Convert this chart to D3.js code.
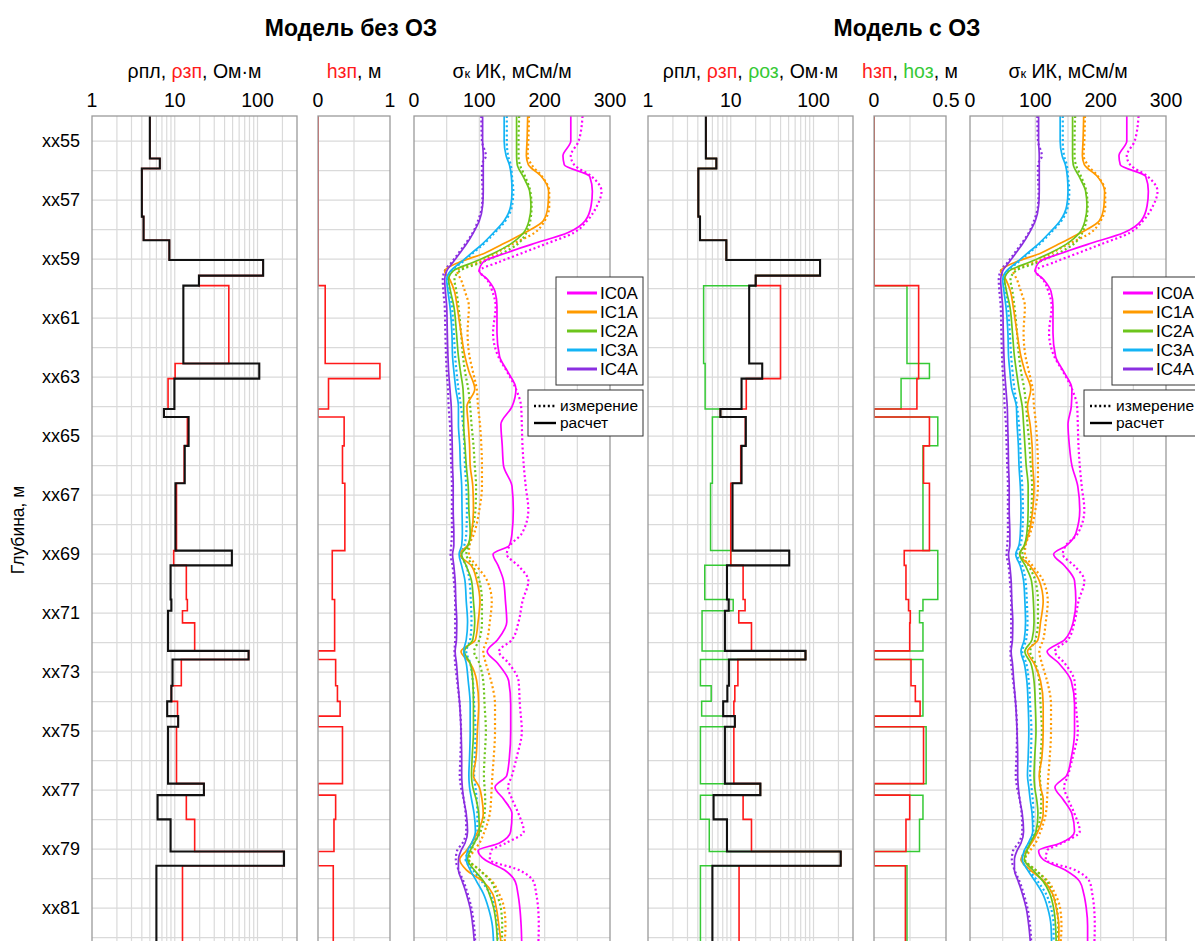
<!DOCTYPE html>
<html>
<head>
<meta charset="utf-8">
<script src="https://cdn.jsdelivr.net/npm/d3@7"></script>
<style>
  body { margin: 0; background: #fff; }
  text { font-family: "Liberation Sans", Arial, sans-serif; }
</style>
</head>
<body>
<div id="chart"></div>
<script>
// ---- layered model (tops of layers, m) ----
const layerTop = [54.0, 55.59, 55.93, 57.56, 58.36, 59.03, 59.56, 59.9, 62.54, 63.05,
  64.08, 64.35, 65.33, 66.6, 68.88, 69.38, 70.54, 70.92, 71.33, 72.28,
  72.57, 73.46, 73.99, 74.49, 74.85, 76.78, 77.17, 77.99, 79.08, 79.56];
const layerBottom = 83;

// model without OZ
const rhoPl1 = [5.0, 6.6, 4.0, 4.2, 8.6, 117, 19.6, 12.7, 105, 9.9,
  7.4, 14.7, 13.2, 10.2, 49, 8.9, 9.1, 8.3, 8.3, 78,
  9.4, 9.1, 8.1, 11, 8.3, 22.5, 6.2, 8.9, 209, 6.0];
const rhoZp1 = [5.0, 6.6, 4.0, 4.2, 8.6, 117, 19.6, 45, 10.1, 8.3,
  7.4, 14.2, 13.0, 10.5, 9.7, 13.8, 14.2, 12.4, 17.4, 78,
  12.0, 9.1, 10.8, 11, 10.5, 22.5, 13.8, 17.4, 209, 12.4];
const hZp1 = [0, 0, 0, 0, 0, 0, 0, 0.10, 0.86, 0.146,
  0, 0.363, 0.34, 0.373, 0.198, 0.198, 0.231, 0.231, 0.231, 0,
  0.245, 0.27, 0.307, 0, 0.34, 0, 0.245, 0.222, 0, 0.212];

// model with OZ
const rhoPl2 = [5.0, 6.7, 4.06, 4.25, 8.85, 120, 20, 16.7, 24, 13.5,
  7.5, 15.2, 13.5, 10.5, 50.9, 9.0, 9.45, 8.5, 8.5, 80,
  9.5, 9.1, 8.1, 11.2, 8.5, 22.8, 6.2, 9.0, 213, 6.0];
const rhoZp2 = [5.0, 6.7, 4.06, 4.25, 8.85, 120, 20, 39.9, 39.9, 15.4,
  7.5, 15.0, 13.2, 10.0, 10.0, 14.1, 14.9, 12.5, 17.8, 80,
  12.2, 11.2, 10.9, 11.2, 10.9, 22.8, 14.1, 17.8, 213, 12.6];
const rhoOz2 = [5.0, 6.7, 4.06, 4.25, 8.85, 120, 20, 4.7, 4.9, 4.9,
  7.5, 6.0, 6.0, 5.7, 10.0, 4.85, 10.7, 4.5, 4.5, 80,
  4.3, 5.8, 4.45, 11.2, 4.3, 22.8, 4.3, 5.5, 213, 4.3];
const hZp2 = [0, 0, 0, 0, 0, 0, 0, 0.31, 0.31, 0.298,
  0, 0.385, 0.344, 0.385, 0.21, 0.222, 0.24, 0.252, 0.248, 0,
  0.257, 0.287, 0.32, 0, 0.344, 0, 0.248, 0.222, 0, 0.218];
const hOz2 = [0, 0, 0, 0, 0, 0, 0, 0.229, 0.385, 0.188,
  0, 0.443, 0.34, 0.34, 0.443, 0.443, 0.34, 0.316, 0.34, 0,
  0.34, 0.34, 0.34, 0, 0.362, 0, 0.34, 0.316, 0, 0.229];

// ---- induction log, mS/m ----
const sigDepth = [54.15, 55.0, 55.5, 55.8, 56.2, 56.7, 57.2, 57.7, 58.1, 58.5,
  58.8, 59.1, 59.4, 59.7, 60.1, 60.6, 61.5, 62.3, 62.8, 63.4,
  64.0, 64.6, 65.3, 66.0, 66.7, 67.5, 68.3, 68.7, 69.0, 69.4,
  69.9, 70.6, 71.3, 71.9, 72.3, 72.7, 73.3, 74.1, 75.0, 75.9,
  76.5, 76.9, 77.3, 77.8, 78.4, 78.8, 79.05, 79.35, 79.7, 80.1,
  80.5, 81.0, 81.6, 82.35];

const measIC0A = [258, 252, 240, 245, 272, 287, 280, 265, 245, 200,
  165, 130, 100, 112, 120, 125, 121, 129, 142, 156,
  164, 165, 166, 168, 171, 175, 165, 147, 142, 160,
  175, 166, 160, 150, 130, 145, 160, 162, 165, 157,
  150, 144, 150, 160, 168, 140, 118, 116, 160, 183,
  187, 190, 191, 190];
const measIC1A = [176, 175, 174, 180, 196, 207, 207, 200, 185, 150,
  125, 100, 66, 72, 78, 84, 82, 85, 90, 96,
  98, 101, 103, 104, 104, 100, 92, 85, 84, 96,
  112, 119, 116, 112, 106, 110, 118, 124, 124, 122,
  120, 119, 118, 116, 108, 100, 92, 84, 100, 120,
  130, 138, 140, 138];
const measIC2A = [161, 160, 160, 162, 170, 178, 180, 178, 172, 158,
  135, 105, 70, 62, 65, 68, 72, 75, 78, 83,
  86, 88, 91, 93, 95, 94, 88, 84, 80, 90,
  100, 104, 104, 100, 92, 100, 106, 108, 110, 108,
  107, 108, 109, 108, 102, 92, 88, 84, 100, 118,
  126, 133, 135, 134];
const measIC3A = [142, 142, 144, 148, 150, 152, 150, 140, 124, 106,
  90, 74, 58, 52, 55, 58, 61, 63, 65, 68,
  72, 75, 77, 78, 80, 81, 80, 77, 72, 80,
  85, 87, 88, 86, 80, 86, 90, 92, 94, 93,
  92, 94, 96, 97, 97, 90, 84, 79, 90, 104,
  116, 124, 128, 128];
const measIC4A = [103, 104, 110, 104, 104, 105, 104, 98, 90, 78,
  68, 58, 47, 44, 45, 47, 48, 49, 50, 52,
  53, 55, 56, 57, 58, 58, 58, 57, 56, 59,
  61, 63, 63, 63, 62, 63, 66, 70, 72, 71,
  70, 72, 76, 79, 80, 74, 66, 64, 68, 76,
  82, 88, 92, 94];

// computed, model without OZ
const calc1IC0A = [240, 240, 228, 230, 269, 273, 271, 262, 236, 180,
  140, 106, 100, 113, 124, 127, 127, 131, 143, 156,
  150, 133, 135, 137, 150, 152, 150, 146, 121, 129,
  137, 140, 142, 128, 112, 128, 145, 148, 148, 146,
  142, 124, 137, 150, 148, 130, 98, 108, 138, 155,
  159, 162, 164, 165];
const calc1IC1A = [174, 173, 172, 175, 195, 206, 205, 198, 170, 135,
  108, 70, 47, 55, 62, 66, 72, 78, 84, 93,
  81, 83, 85, 86, 90, 91, 88, 82, 70, 88,
  96, 101, 98, 94, 72, 86, 96, 99, 97, 95,
  91, 100, 104, 106, 98, 88, 80, 70, 80, 106,
  120, 126, 130, 134];
const calc1IC2A = [157, 157, 157, 158, 167, 177, 179, 176, 168, 147,
  122, 92, 60, 53, 56, 61, 65, 68, 71, 75,
  76, 76, 78, 80, 83, 84, 86, 83, 73, 80,
  88, 91, 93, 90, 77, 86, 90, 91, 91, 89,
  88, 90, 95, 99, 100, 92, 86, 82, 92, 107,
  115, 122, 126, 128];
const calc1IC3A = [138, 138, 141, 146, 149, 150, 148, 138, 122, 104,
  88, 72, 56, 50, 52, 55, 58, 59, 61, 64,
  68, 68, 70, 71, 73, 73.5, 74, 73, 69, 73,
  78, 80, 82, 80, 76, 80, 83, 86, 86, 85,
  84, 85, 88, 92, 94, 88, 82, 80, 86, 96,
  106, 114, 120, 122];
const calc1IC4A = [105, 105, 106, 106, 106, 106, 105, 100, 91, 80,
  70, 60, 50, 47, 48, 50, 51, 52, 53, 55,
  57, 57.7, 58.5, 59, 60, 60, 61, 61, 59, 61,
  63, 64, 65.5, 65, 63, 65, 67, 70, 72, 73,
  73, 74, 76, 80, 82, 78, 72, 68, 68, 74,
  80, 86, 90, 93];

// computed, model with OZ
const calc2IC0A = [240, 240, 228, 230, 269, 273, 271, 262, 236, 180,
  140, 106, 100, 113, 124, 127, 127, 131, 143, 156,
  155, 150, 152, 156, 165, 168, 162, 148, 128, 145,
  160, 162, 158, 145, 118, 136, 155, 160, 160, 155,
  148, 130, 142, 156, 160, 138, 105, 112, 145, 168,
  174, 178, 180, 180];
const calc2IC1A = [174, 173, 172, 175, 195, 206, 205, 198, 170, 135,
  108, 70, 47, 55, 62, 66, 72, 78, 84, 93,
  88, 92, 95, 96, 98, 96, 90, 84, 76, 92,
  106, 112, 108, 104, 88, 98, 108, 112, 112, 110,
  106, 108, 112, 112, 104, 94, 86, 78, 92, 114,
  126, 132, 136, 136];
const calc2IC2A = [157, 157, 157, 158, 167, 177, 179, 176, 168, 147,
  122, 92, 60, 53, 56, 61, 65, 68, 71, 75,
  80, 82, 84, 86, 89, 89, 87, 83, 76, 85,
  94, 97, 98, 95, 84, 93, 98, 100, 101, 99,
  98, 99, 102, 104, 101, 92, 87, 83, 96, 112,
  122, 128, 131, 132];
const calc2IC3A = [138, 138, 141, 146, 149, 150, 148, 138, 122, 104,
  88, 72, 56, 50, 52, 55, 58, 59, 61, 64,
  71, 72, 74, 75, 77, 78, 77, 75, 70, 77,
  82, 84, 85, 83, 78, 83, 87, 89, 90, 89,
  88, 90, 92, 95, 96, 89, 83, 80, 88, 100,
  111, 119, 124, 125];
const calc2IC4A = [105, 105, 106, 106, 106, 106, 105, 100, 91, 80,
  70, 60, 50, 47, 48, 50, 51, 52, 53, 55,
  57, 57.7, 58.5, 59, 60, 60, 61, 61, 59, 61,
  63, 64, 65.5, 65, 63, 65, 67, 70, 72, 73,
  73, 74, 76, 80, 82, 78, 72, 68, 68, 74,
  80, 86, 90, 93];

const channels = ["IC0A", "IC1A", "IC2A", "IC3A", "IC4A"];
const chColors = ["#ff00ff", "#ff9a00", "#6cc51c", "#14b4f5", "#8b2fe0"];
const measured = [measIC0A, measIC1A, measIC2A, measIC3A, measIC4A];
const calc1 = [calc1IC0A, calc1IC1A, calc1IC2A, calc1IC3A, calc1IC4A];
const calc2 = [calc2IC0A, calc2IC1A, calc2IC2A, calc2IC3A, calc2IC4A];

const depthLabels = [55, 57, 59, 61, 63, 65, 67, 69, 71, 73, 75, 77, 79, 81];
const resTicks = [1, 10, 100];
const sigTicks = [0, 100, 200, 300];

const RED = "#ff1a1a", GREEN = "#35c935";

// ---- drawing ----
const W = 1195, H = 941;
const svg = d3.select("#chart").append("svg")
  .attr("width", W).attr("height", H);

const y = d3.scaleLinear().domain([54.15, 82.35]).range([116, 948]);
const gridDepths = d3.range(55, 83);

function stepPts(vals) {
  let pts = [];
  vals.forEach((v, i) => {
    let bot = i < layerTop.length - 1 ? layerTop[i + 1] : layerBottom;
    pts.push([v, layerTop[i]], [v, bot]);
  });
  return pts;
}

let clipId = 0;
function makeTrack(x0, x1) {
  let id = "clip" + (clipId++);
  svg.append("clipPath").attr("id", id).append("rect")
    .attr("x", x0).attr("y", y.range()[0]).attr("width", x1 - x0).attr("height", y.range()[1] - y.range()[0]);
  let g = svg.append("g");
  // horizontal grid
  g.selectAll(".hg").data(gridDepths).enter().append("line")
    .attr("x1", x0).attr("x2", x1)
    .attr("y1", d => y(d)).attr("y2", d => y(d))
    .attr("stroke", "#dadada").attr("stroke-width", 1.2);
  let inner = svg.append("g").attr("clip-path", `url(#${id})`);
  return {g: g, inner: inner, x0: x0, x1: x1};
}

function frame(tr) {
  svg.append("rect")
    .attr("x", tr.x0).attr("y", y.range()[0])
    .attr("width", tr.x1 - tr.x0).attr("height", y.range()[1] - y.range()[0])
    .attr("fill", "none").attr("stroke", "#9a9a9a").attr("stroke-width", 1.3);
}

function vGrid(tr, scale, vals) {
  tr.g.selectAll(".vg").data(vals).enter().append("line")
    .attr("x1", d => scale(d)).attr("x2", d => scale(d))
    .attr("y1", y.range()[0]).attr("y2", y.range()[1])
    .attr("stroke", "#dadada").attr("stroke-width", 1.2);
}

function stepLine(tr, scale, vals, color, width) {
  tr.inner.append("path")
    .datum(stepPts(vals))
    .attr("d", d3.line().x(p => scale(p[0])).y(p => y(p[1])))
    .attr("fill", "none").attr("stroke", color).attr("stroke-width", width)
    .attr("stroke-linejoin", "miter");
}

function tickLabels(scale, ticks, fmt) {
  svg.append("g").selectAll("text").data(ticks).enter().append("text")
    .attr("x", d => scale(d)).attr("y", 107)
    .attr("text-anchor", "middle").attr("font-size", 19.5)
    .text(fmt);
}

function header(cx, parts) {
  let t = svg.append("text").attr("x", cx).attr("y", 78)
    .attr("text-anchor", "middle").attr("font-size", 19.5);
  parts.forEach(p => {
    let s = t.append("tspan").attr("fill", p[1] || "#000").text(p[0]);
    if (p[2]) s.attr("font-size", p[2]);
  });
}

function drawGroup(off, hMax, pl, zp, oz, hz, ho, calc, title) {
  // resistivity
  let res = makeTrack(92 + off, 297 + off);
  let xr = d3.scaleLog().domain([1, 300]).range([res.x0, res.x1]);
  let minor = [2, 3, 4, 5, 6, 7, 8, 9, 10, 20, 30, 40, 50, 60, 70, 80, 90, 100, 200];
  vGrid(res, xr, minor);
  if (oz) stepLine(res, xr, oz, GREEN, 1.5);
  stepLine(res, xr, zp, RED, 1.6);
  stepLine(res, xr, pl, "#111", 2.1);
  frame(res);
  tickLabels(xr, resTicks, d => d);

  // invasion radius
  let ht = makeTrack(off === 0 ? 318 : 874, off === 0 ? 390 : 946);
  let xh = d3.scaleLinear().domain([0, hMax]).range([ht.x0, ht.x1]);
  vGrid(ht, xh, [hMax / 2]);
  if (ho) stepLine(ht, xh, ho, GREEN, 1.5);
  stepLine(ht, xh, hz, RED, 1.6);
  frame(ht);
  tickLabels(xh, [0, hMax], d => d);

  // conductivity
  let sg = makeTrack(414 + off, 610 + off);
  let xs = d3.scaleLinear().domain([0, 300]).range([sg.x0, sg.x1]);
  vGrid(sg, xs, [50, 100, 150, 200, 250]);
  let line = d3.line().curve(d3.curveMonotoneY)
    .x(d => xs(d[0])).y(d => y(d[1]));
  measured.forEach((arr, i) => {
    sg.inner.append("path")
      .datum(arr.map((v, j) => [v, sigDepth[j]]))
      .attr("d", line).attr("fill", "none")
      .attr("stroke", chColors[i]).attr("stroke-width", 2.2)
      .attr("stroke-dasharray", "2,2.6");
  });
  calc.forEach((arr, i) => {
    sg.inner.append("path")
      .datum(arr.map((v, j) => [v, sigDepth[j]]))
      .attr("d", line).attr("fill", "none")
      .attr("stroke", chColors[i]).attr("stroke-width", 1.7);
  });
  frame(sg);
  tickLabels(xs, sigTicks, d => d);

  // titles
  svg.append("text").attr("x", (res.x0 + sg.x1) / 2).attr("y", 36)
    .attr("text-anchor", "middle").attr("font-size", 23).attr("font-weight", "bold")
    .text(title);
  if (oz) {
    header((res.x0 + res.x1) / 2, [["ρпл, "], ["ρзп", RED], [", "], ["ρоз", GREEN], [", Ом·м"]]);
    header((ht.x0 + ht.x1) / 2, [["hзп", RED], [", "], ["hоз", GREEN], [", м"]]);
  } else {
    header((res.x0 + res.x1) / 2, [["ρпл, "], ["ρзп", RED], [", Ом·м"]]);
    header((ht.x0 + ht.x1) / 2, [["hзп", RED], [", м"]]);
  }
  header((sg.x0 + sg.x1) / 2, [["σ"], ["к", "#000", 13], [" ИК, мСм/м"]]);

  // legends
  let lx = sg.x0 + 142, ly = 277;
  let lg = svg.append("g");
  lg.append("rect").attr("x", lx).attr("y", ly).attr("width", 87).attr("height", 108)
    .attr("fill", "#fff").attr("stroke", "#333").attr("stroke-width", 1);
  channels.forEach((c, i) => {
    let yy = ly + 16 + i * 19;
    lg.append("line").attr("x1", lx + 11).attr("x2", lx + 41)
      .attr("y1", yy).attr("y2", yy)
      .attr("stroke", chColors[i]).attr("stroke-width", 3);
    lg.append("text").attr("x", lx + 44).attr("y", yy + 6)
      .attr("font-size", 17).attr("font-family", "Open Sans").text(c);
  });
  let mx = sg.x0 + 114, my = 390;
  lg.append("rect").attr("x", mx).attr("y", my).attr("width", 115).attr("height", 46)
    .attr("fill", "#fff").attr("stroke", "#333").attr("stroke-width", 1);
  [["измерение", "2,2.6"], ["расчет", null]].forEach((r, i) => {
    let yy = my + 16 + i * 17;
    let l = lg.append("line").attr("x1", mx + 6).attr("x2", mx + 28)
      .attr("y1", yy).attr("y2", yy)
      .attr("stroke", "#000").attr("stroke-width", 2.4);
    if (r[1]) l.attr("stroke-dasharray", r[1]);
    lg.append("text").attr("x", mx + 32).attr("y", yy + 5)
      .attr("font-size", 15.5).attr("font-family", "Open Sans").text(r[0]);
  });
}

drawGroup(0, 1, rhoPl1, rhoZp1, null, hZp1, null, calc1, "Модель без ОЗ");
drawGroup(556, 0.5, rhoPl2, rhoZp2, rhoOz2, hZp2, hOz2, calc2, "Модель с ОЗ");

// depth axis labels
svg.append("g").selectAll("text").data(depthLabels).enter().append("text")
  .attr("x", 80).attr("y", d => y(d) + 6)
  .attr("text-anchor", "end").attr("font-size", 18)
  .text(d => "xx" + d);

svg.append("text")
  .attr("transform", "translate(24,530) rotate(-90)")
  .attr("text-anchor", "middle").attr("font-size", 17.5)
  .text("Глубина, м");
</script>
</body>
</html>
